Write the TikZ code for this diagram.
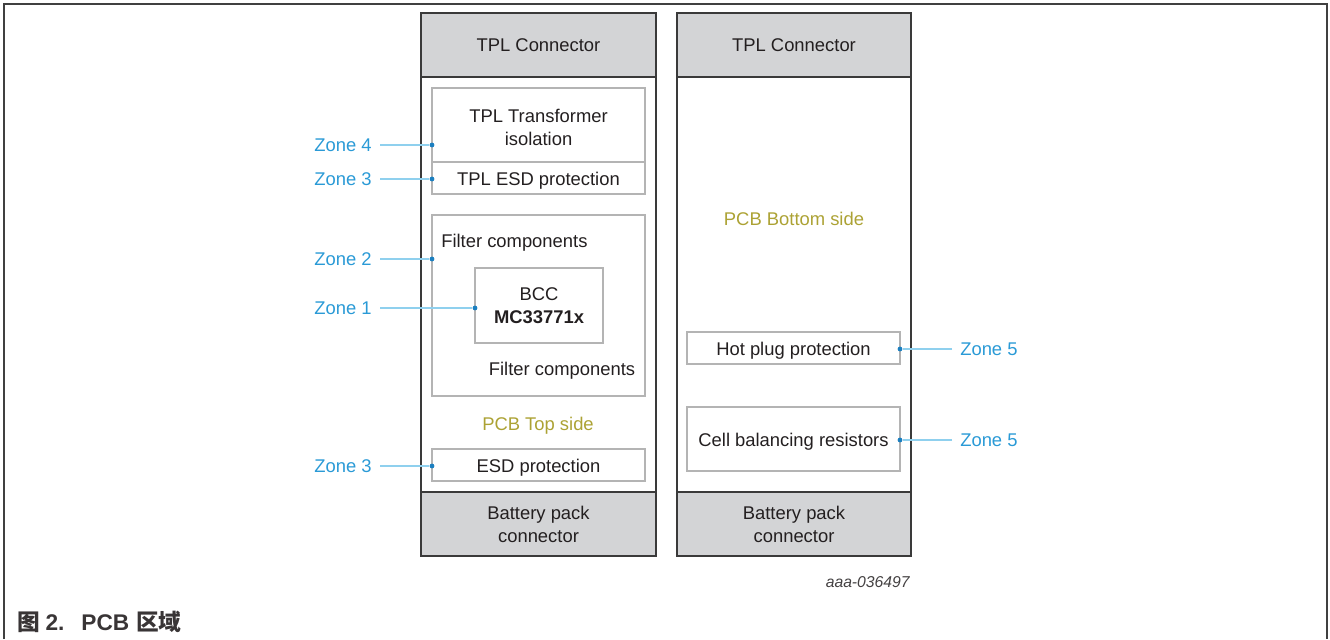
\documentclass[tikz,border=0pt]{standalone}
\usepackage{fontspec}
\setmainfont{Liberation Sans}
\newfontfamily\cjk{Noto Sans CJK SC}
\usetikzlibrary{fit}
\definecolor{darkline}{HTML}{3A3A3A}
\definecolor{connfill}{HTML}{D3D4D6}
\definecolor{boxline}{HTML}{B4B4B4}
\definecolor{txtc}{HTML}{231F20}
\definecolor{zoneblue}{HTML}{2A9AD6}
\definecolor{leadblue}{HTML}{8FD0EE}
\definecolor{dotblue}{HTML}{1B7FC0}
\definecolor{olive}{HTML}{ACA234}
\definecolor{framec}{HTML}{404040}
\begin{document}
\begin{tikzpicture}[x=0.75pt,y=-0.75pt,
  txt/.style={font=\fontsize{13.8}{17.25}\selectfont, text=txtc, inner sep=0pt, align=center},
  outerbox/.style={draw=darkline, line width=1pt, inner sep=0pt},
  connbox/.style={outerbox, fill=connfill},
  inbox/.style={draw=boxline, line width=0.8pt, inner sep=0pt},
  side/.style={txt, text=olive},
  zone/.style={font=\fontsize{13.8}{16}\selectfont, text=zoneblue, inner ysep=0pt, inner xsep=6pt},
  lead/.style={draw=leadblue, line width=0.8pt},
  zdot/.style={circle, fill=dotblue, inner sep=0pt, minimum size=3.6pt}
]
\useasboundingbox (0,0) rectangle (1330,639);
\draw[framec, line width=1pt] (4,639) -- (4,4) -- (1327,4) -- (1327,639);

% left panel
\node[outerbox, fit={(421,13)(656,556)}] (L) {};
\node[connbox, fit={(421,13)(656,77)}] (Ltop) {};
\node[txt] (tLtop) at (Ltop.center) {TPL Connector};
\node[connbox, fit={(421,492)(656,556)}] (Lbot) {};
\node[txt] (tLbot) at (Lbot.center) {Battery pack\\connector};
\node[inbox, fit={(432,88)(645,162)}] (tpliso) {};
\node[txt] (ttpliso) at ([yshift=-1.5]tpliso.center) {TPL Transformer\\isolation};
\node[inbox, fit={(432,162)(645,194)}] (tplesd) {};
\node[txt] (ttplesd) at ([yshift=-2]tplesd.center) {TPL ESD protection};
\node[inbox, fit={(432,215)(645,396)}] (filt) {};
\node[txt, anchor=west] (f1) at (441,243) {Filter components};
\node[inbox, fit={(475,268)(603,343)}] (bcc) {};
\node[txt] (tbcc) at (bcc.center) {BCC\\\textbf{MC33771x}};
\node[txt] (f2) at (562,371) {Filter components};
\node[side] (top) at (538,426) {PCB Top side};
\node[inbox, fit={(432,449)(645,481)}] (esd) {};
\node[txt] (tesd) at ([yshift=-2]esd.center) {ESD protection};

% right panel
\node[outerbox, fit={(677,13)(911,556)}] (R) {};
\node[connbox, fit={(677,13)(911,77)}] (Rtop) {};
\node[txt] (tRtop) at (Rtop.center) {TPL Connector};
\node[connbox, fit={(677,492)(911,556)}] (Rbot) {};
\node[txt] (tRbot) at (Rbot.center) {Battery pack\\connector};
\node[side] (bot) at (794,219) {PCB Bottom side};
\node[inbox, fit={(687,332)(900,364)}] (hot) {};
\node[txt] (thot) at ([yshift=-2]hot.center) {Hot plug protection};
\node[inbox, fit={(687,407)(900,471)}] (cell) {};
\node[txt] (tcell) at ([yshift=-2]cell.center) {Cell balancing resistors};

% zone labels
\node[zone, anchor=east] (z4) at (380,145) {Zone 4};
\node[zone, anchor=east] (z3a) at (380,179) {Zone 3};
\node[zone, anchor=east] (z2) at (380,259) {Zone 2};
\node[zone, anchor=east] (z1) at (380,308) {Zone 1};
\node[zone, anchor=east] (z3b) at (380,466) {Zone 3};
\node[zone, anchor=west] (z5a) at (952,349) {Zone 5};
\node[zone, anchor=west] (z5b) at (952,440) {Zone 5};

\node[zdot] (d4) at (432,145) {};
\node[zdot] (d3a) at (432,179) {};
\node[zdot] (d2) at (432,259) {};
\node[zdot] (d1) at (475,308) {};
\node[zdot] (d3b) at (432,466) {};
\node[zdot] (d5a) at (900,349) {};
\node[zdot] (d5b) at (900,440) {};

\draw[lead] (z4) -- (d4);
\draw[lead] (z3a) -- (d3a);
\draw[lead] (z2) -- (d2);
\draw[lead] (z1) -- (d1);
\draw[lead] (z3b) -- (d3b);
\draw[lead] (z5a) -- (d5a);
\draw[lead] (z5b) -- (d5b);

\node[font=\itshape\fontsize{11.8}{13}\selectfont, text=txtc!85, inner sep=0pt, anchor=east] (id) at (910,582) {aaa-036497};
\node[font=\bfseries\fontsize{17}{19}\selectfont, text=txtc!90, inner sep=0pt, anchor=west] (cap) at (17,622) {{\cjk\bfseries 图}\hspace{0.25em}2.\hspace{0.75em}PCB\hspace{0.3em}{\cjk\bfseries 区域}};
\end{tikzpicture}
\end{document}
